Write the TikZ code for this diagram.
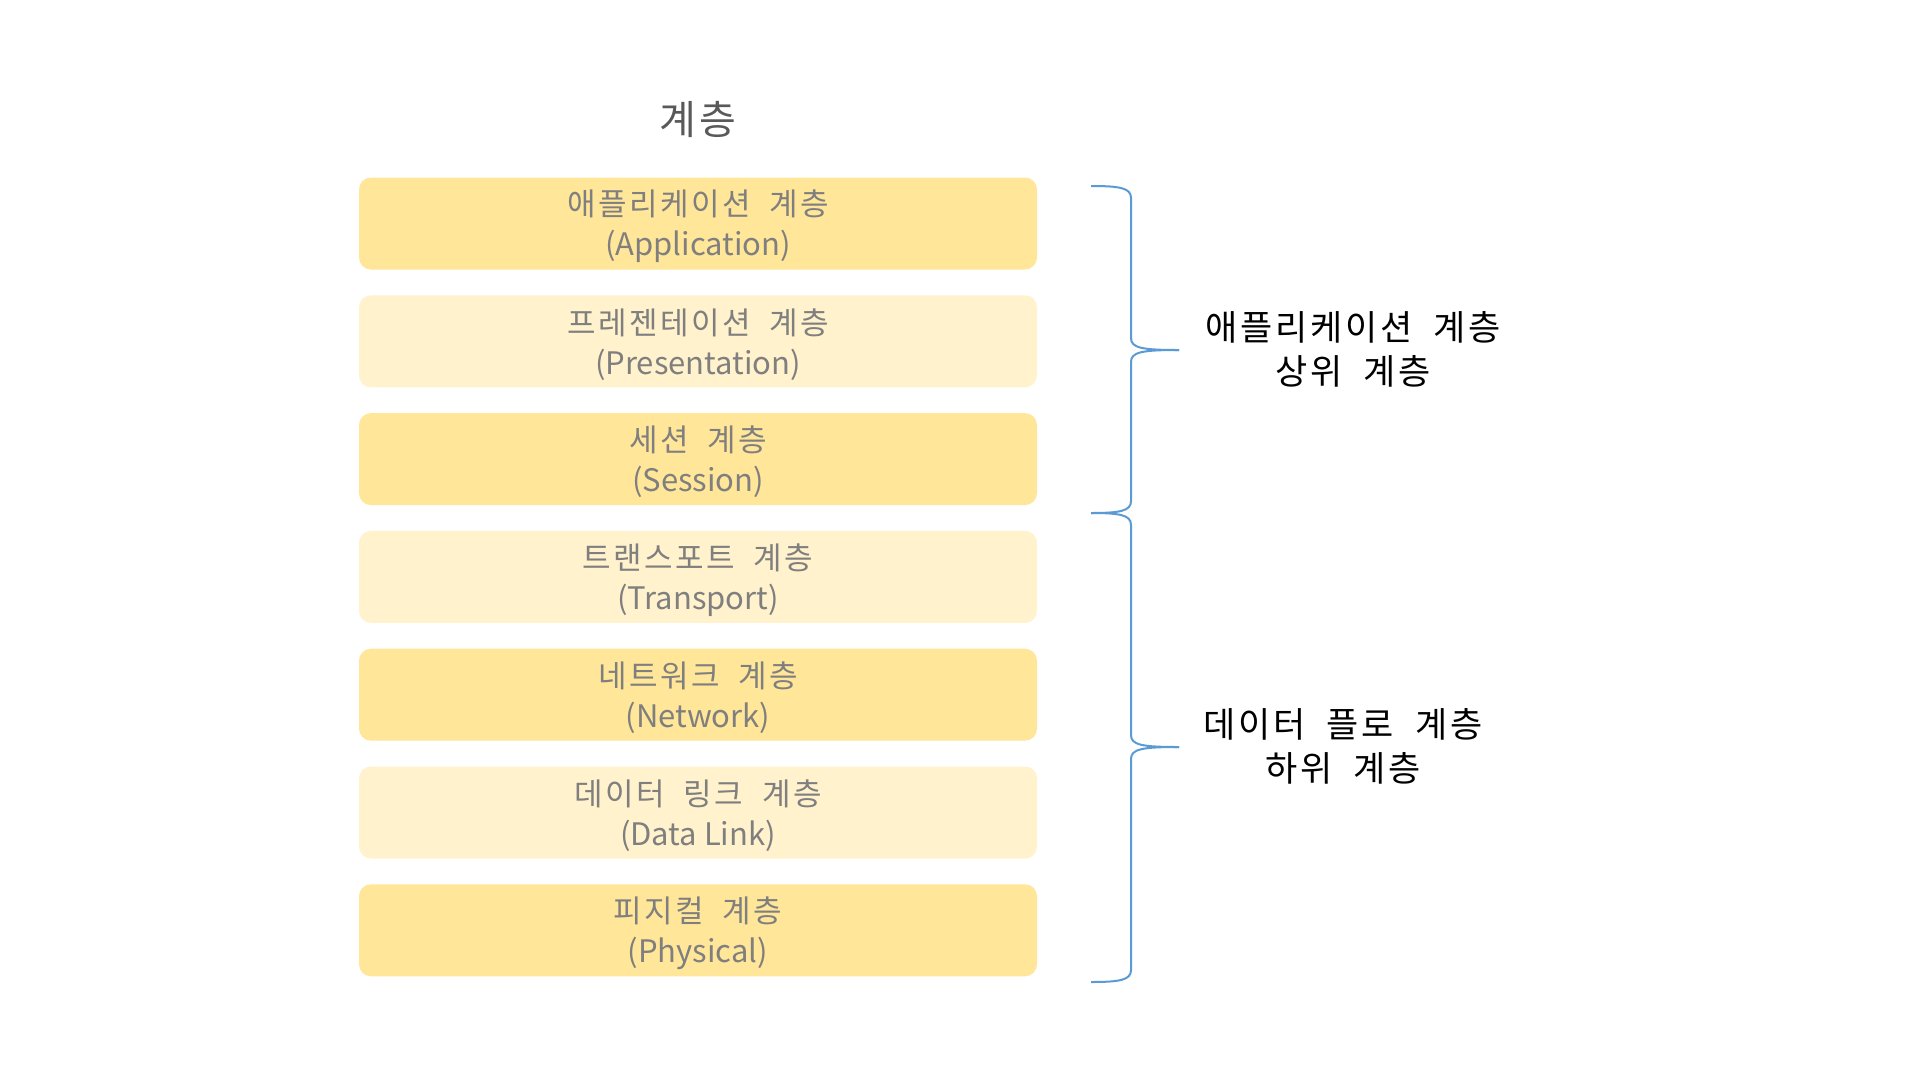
\documentclass[tikz,border=0pt]{standalone}
\usepackage{fontspec}
\setmainfont{Noto Sans CJK KR}
\newfontfamily\kofont{Noto Sans CJK KR}[LetterSpace=8,WordSpace=2.0]
\definecolor{darkbox}{HTML}{FFE699}
\definecolor{lightbox}{HTML}{FFF2CC}
\definecolor{boxtext}{HTML}{7F7F7F}
\definecolor{titletext}{HTML}{595959}
\definecolor{bracecol}{HTML}{5B9BD5}
\tikzset{
  layerbox/.style={rectangle, rounded corners=12pt, minimum width=678pt, minimum height=92pt,
    inner sep=0pt, draw=none},
  darklayer/.style={layerbox, fill=darkbox},
  lightlayer/.style={layerbox, fill=lightbox},
  layertext/.style={align=center, text=boxtext, inner sep=0pt,
    font={\fontsize{31}{40}\selectfont}},
  grouplabel/.style={align=center, text=black, font={\fontsize{35}{44}\selectfont}},
  bracepath/.style={draw=bracecol, line width=2pt}
}
\begin{document}
\begin{tikzpicture}[x=1pt,y=-1pt]
\useasboundingbox (0,0) rectangle (1920,1080);
\fill[white] (0,0) rectangle (1920,1080);
\node[text=titletext, font={\fontsize{40}{48}\selectfont}] (title) at (698,119) {{\kofont 계층}};
\node[darklayer]  (l1) at (698,223.5) {};
\node[lightlayer] (l2) at (698,341.3) {};
\node[darklayer]  (l3) at (698,459.1) {};
\node[lightlayer] (l4) at (698,576.9) {};
\node[darklayer]  (l5) at (698,694.7) {};
\node[lightlayer] (l6) at (698,812.5) {};
\node[darklayer]  (l7) at (698,930.3) {};
\node[layertext] (t1) at ([yshift=-3pt]l1.center) {{\kofont 애플리케이션 계층}\\(Application)};
\node[layertext] (t2) at ([yshift=-3pt]l2.center) {{\kofont 프레젠테이션 계층}\\(Presentation)};
\node[layertext] (t3) at ([yshift=-3pt]l3.center) {{\kofont 세션 계층}\\(Session)};
\node[layertext] (t4) at ([yshift=-3pt]l4.center) {{\kofont 트랜스포트 계층}\\(Transport)};
\node[layertext] (t5) at ([yshift=-3pt]l5.center) {{\kofont 네트워크 계층}\\(Network)};
\node[layertext] (t6) at ([yshift=-3pt]l6.center) {{\kofont 데이터 링크 계층}\\(Data Link)};
\node[layertext] (t7) at ([yshift=-3pt]l7.center) {{\kofont 피지컬 계층}\\(Physical)};
% braces
\coordinate (b1top) at (1091,186);
\coordinate (b1tip) at (1179,350);
\coordinate (b1bot) at (1091,513);
\coordinate (b2tip) at (1179,747);
\coordinate (b2bot) at (1091,982);
\draw[bracepath] (b1top) .. controls (1120,186) and (1131,188) .. (1131,198)
  -- (1131,338) .. controls (1131,348) and (1142,350) .. (b1tip);
\draw[bracepath] (b1tip) .. controls (1142,350) and (1131,352) .. (1131,362)
  -- (1131,501) .. controls (1131,511) and (1120,513) .. (b1bot);
\draw[bracepath] (b1bot) .. controls (1120,513) and (1131,515) .. (1131,525)
  -- (1131,735) .. controls (1131,745) and (1142,747) .. (b2tip);
\draw[bracepath] (b2tip) .. controls (1142,747) and (1131,749) .. (1131,759)
  -- (1131,970) .. controls (1131,980) and (1120,982) .. (b2bot);
\node[grouplabel] (g1) at (1353,349) {{\kofont 애플리케이션 계층}\\{\kofont 상위 계층}};
\node[grouplabel] (g2) at (1343,746) {{\kofont 데이터 플로 계층}\\{\kofont 하위 계층}};
\end{tikzpicture}
\end{document}
